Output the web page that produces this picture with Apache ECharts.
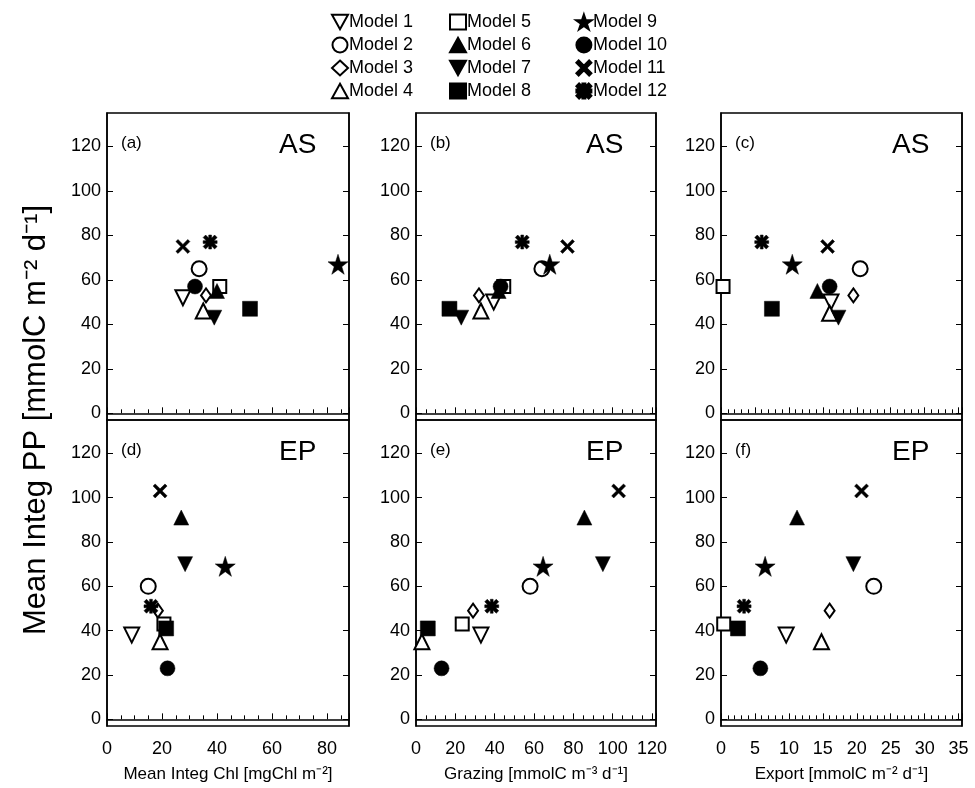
<!DOCTYPE html>
<html><head><meta charset="utf-8">
<script src="https://cdn.jsdelivr.net/npm/echarts@6/dist/echarts.min.js"></script>
<style>html,body{margin:0;background:#fff}#c{width:975px;height:788px}</style>
</head><body><div id="c"></div>
<script>
const models = ['Model 1','Model 2','Model 3','Model 4','Model 5','Model 6','Model 7','Model 8','Model 9','Model 10','Model 11','Model 12']
const yTicks = [0, 20, 40, 60, 80, 100, 120]
const chlTicks = [0, 20, 40, 60, 80]
const expTicks = [0, 5, 10, 15, 20, 25, 30, 35]

// [x, PP] per model, Model 1..12
const chlAS = [[27.6,52],[33.5,65],[36,53],[35,46],[41,57],[40,55],[39,43],[52,47],[84,67],[32,57],[27.6,75],[37.5,77]]
const grzAS = [[39.5,50],[64,65],[32,53],[33,46],[44.6,57],[42,55],[23,43],[17,47],[68,67],[43,57],[77,75],[54,77]]
const expAS = [[16.2,50],[20.5,65],[19.5,53],[16,45],[0.3,57],[14.2,55],[17.3,43],[7.5,47],[10.5,67],[16,57],[15.7,75],[6,77]]
const chlEP = [[9,38],[15,60],[18.5,49],[19.3,35],[20.7,43],[27,91],[28.4,70],[21.5,41],[43,69],[22,23],[19.3,103],[16,51]]
const grzEP = [[33,38],[58,60],[29,49],[3,35],[23.5,43],[85.6,91],[95,70],[6,41],[64.6,69],[13,23],[103,103],[38.5,51]]
const expEP = [[9.6,38],[22.5,60],[16,49],[14.8,35],[0.4,43],[11.2,91],[19.5,70],[2.5,41],[6.5,69],[5.8,23],[20.7,103],[3.4,51]]

const panels = [
  {data: chlAS, tag: '(a)', reg: 'AS', xmax: 88, step: 20, minor: 4, ticks: chlTicks},
  {data: grzAS, tag: '(b)', reg: 'AS', xmax: 122, step: 20, minor: 4},
  {data: expAS, tag: '(c)', reg: 'AS', xmax: 35.5, step: 5, minor: 5, ticks: expTicks},
  {data: chlEP, tag: '(d)', reg: 'EP', xmax: 88, step: 20, minor: 4, ticks: chlTicks, name: 'Mean Integ Chl [mgChl m⁻²]'},
  {data: grzEP, tag: '(e)', reg: 'EP', xmax: 122, step: 20, minor: 4, name: 'Grazing [mmolC m⁻³ d⁻¹]'},
  {data: expEP, tag: '(f)', reg: 'EP', xmax: 35.5, step: 5, minor: 5, ticks: expTicks, name: 'Export [mmolC m⁻² d⁻¹]'}
]

const triDown = 'path://M0,0 L10,0 L5,9 Z'
const triUp = 'path://M5,0 L10,9 L0,9 Z'
const xPath = 'path://M0,1.5 L1.5,0 L5,3.5 L8.5,0 L10,1.5 L6.5,5 L10,8.5 L8.5,10 L5,6.5 L1.5,10 L0,8.5 L3.5,5 Z'
const astPath = 'path://M0,1.8 L1.8,0 L5,3.2 L8.2,0 L10,1.8 L6.8,5 L10,8.2 L8.2,10 L5,6.8 L1.8,10 L0,8.2 L3.2,5 Z M4,0 L6,0 L6,4 L10,4 L10,6 L6,6 L6,10 L4,10 L4,6 L0,6 L0,4 L4,4 Z'
const starPath = 'path://M5,0 L6.2,3.6 L10,3.6 L6.9,5.9 L8.1,9.5 L5,7.3 L1.9,9.5 L3.1,5.9 L0,3.6 L3.8,3.6 Z'

const W = '#fff', K = '#000'
const styles = [
  {symbol: triDown, size: 15, fill: W},
  {symbol: 'circle', size: 15, fill: W},
  {symbol: 'diamond', size: [10, 14], fill: W},
  {symbol: triUp, size: 15, fill: W},
  {symbol: 'rect', size: 13, fill: W},
  {symbol: triUp, size: 15, fill: K},
  {symbol: triDown, size: 15, fill: K},
  {symbol: 'rect', size: 15, fill: K},
  {symbol: starPath, size: 20, fill: K},
  {symbol: 'circle', size: 15, fill: K},
  {symbol: xPath, size: 14, fill: K},
  {symbol: astPath, size: 14, fill: K}
]

const lefts = [107, 416, 721], widths = [242, 240, 241], tops = [113, 420], heights = [307, 306]
const grid = [], xAxis = [], yAxis = [], series = [], graphic = []
panels.forEach((p, i) => {
  const col = i % 3, row = Math.floor(i / 3)
  grid.push({left: lefts[col], top: tops[row], width: widths[col], height: heights[row], show: true, borderColor: K, borderWidth: 1.5})
  const label = {show: row === 1, fontFamily: 'Liberation Sans', fontSize: 18, color: K, margin: 14}
  if (p.ticks) label.customValues = p.ticks
  xAxis.push({
    gridIndex: i, type: 'value', min: 0, max: p.xmax, interval: p.step,
    name: p.name || '', nameLocation: 'middle', nameGap: 40,
    nameTextStyle: {fontFamily: 'Liberation Sans', fontSize: 17, color: K},
    axisLine: {lineStyle: {color: K, width: 1.5}},
    axisTick: {inside: true, length: 6, lineStyle: {color: K}},
    minorTick: {show: true, splitNumber: p.minor, length: 4, lineStyle: {color: K}},
    axisLabel: label,
    splitLine: {show: false}
  })
  const yCommon = {
    gridIndex: i, type: 'value', min: -3, max: 135,
    axisLine: {lineStyle: {color: K, width: 1.5}},
    axisTick: {inside: true, length: 6, customValues: yTicks, lineStyle: {color: K}},
    splitLine: {show: false}
  }
  yAxis.push(Object.assign({}, yCommon, {position: 'left',
    axisLabel: {customValues: yTicks, fontFamily: 'Liberation Sans', fontSize: 18, color: K, margin: 6}}))
  yAxis.push(Object.assign({}, yCommon, {position: 'right', axisLabel: {show: false}}))
  p.data.forEach((d, m) => {
    const s = styles[m]
    series.push({
      name: models[m], type: 'scatter', xAxisIndex: i, yAxisIndex: i * 2,
      data: [d], symbol: s.symbol, symbolSize: s.size,
      itemStyle: {color: s.fill, opacity: 1, borderColor: K, borderWidth: s.fill === W ? 2 : 0.5}
    })
  })
  graphic.push({type: 'text', left: lefts[col] + 14, top: tops[row] + 22,
    style: {text: p.tag, font: '17px "Liberation Sans"', fill: K}})
  graphic.push({type: 'text', left: lefts[col] + widths[col] - 70, top: tops[row] + 18,
    style: {text: p.reg, font: '28px "Liberation Sans"', fill: K}})
})
graphic.push({type: 'text', x: 36, y: 420, rotation: Math.PI / 2,
  style: {text: 'Mean Integ PP [mmolC m⁻² d⁻¹]', font: '31px "Liberation Sans"', fill: K, align: 'center', verticalAlign: 'middle'}})

const legendBase = {orient: 'vertical', top: 8, itemGap: 5, itemWidth: 16, itemHeight: 15,
  textStyle: {fontFamily: 'Liberation Sans', fontSize: 18, color: K, padding: [0, 0, 0, -4]}, selectedMode: false}
const legend = [
  Object.assign({}, legendBase, {left: 326, data: models.slice(0, 4)}),
  Object.assign({}, legendBase, {left: 444, data: models.slice(4, 8)}),
  Object.assign({}, legendBase, {left: 570, data: models.slice(8, 12)})
]

const chart = echarts.init(document.getElementById('c'))
chart.setOption({animation: false, grid, xAxis, yAxis, series, legend, graphic})
</script></body></html>
